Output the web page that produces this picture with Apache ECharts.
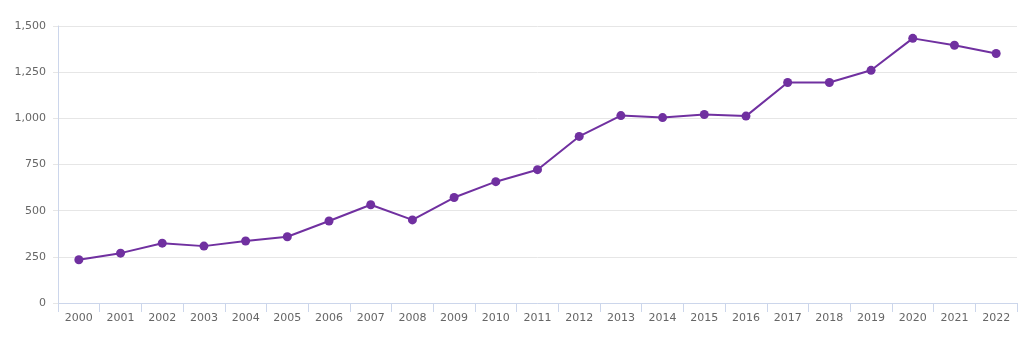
<!DOCTYPE html>
<html><head><meta charset="utf-8">
<script src="https://cdn.jsdelivr.net/npm/echarts@6/dist/echarts.min.js"></script>
<style>html,body{margin:0;padding:0;background:#fff}#c{width:1024px;height:347px}</style>
</head><body><div id="c"></div>
<script>
const years = ['2000','2001','2002','2003','2004','2005','2006','2007','2008','2009','2010','2011','2012','2013','2014','2015','2016','2017','2018','2019','2020','2021','2022'];
const values = [234,270,324,308,336,359,444,532,450,571,657,722,902,1015,1004,1021,1012,1194,1194,1260,1433,1396,1351];
const yTicks = {min:0, max:1500, interval:250};

const chart = echarts.init(document.getElementById('c'), null, {renderer:'canvas'});
chart.setOption({
  animation:false,
  grid:{left:58, right:7, top:26, bottom:44, containLabel:false},
  xAxis:{
    type:'category', data:years, boundaryGap:true,
    axisLine:{lineStyle:{color:'#ccd6eb', width:1}},
    axisTick:{show:true, length:9, lineStyle:{color:'#ccd6eb'}},
    axisLabel:{color:'#666666', fontSize:11, fontFamily:'"DejaVu Sans", sans-serif', margin:10}
  },
  yAxis:{
    type:'value', min:yTicks.min, max:yTicks.max, interval:yTicks.interval,
    axisLine:{show:true, lineStyle:{color:'#ccd6eb', width:1}},
    axisTick:{show:true, length:5, lineStyle:{color:'#e6e6e6'}},
    splitLine:{lineStyle:{color:'#e6e6e6', width:1}},
    axisLabel:{color:'#666666', fontSize:11, fontFamily:'"DejaVu Sans", sans-serif', margin:12,
      formatter:v=>v.toLocaleString('en-US')}
  },
  series:[{
    type:'line', data:values, symbol:'circle', symbolSize:9,
    lineStyle:{color:'#7030a0', width:2},
    itemStyle:{color:'#7030a0'}
  }]
});
</script></body></html>
